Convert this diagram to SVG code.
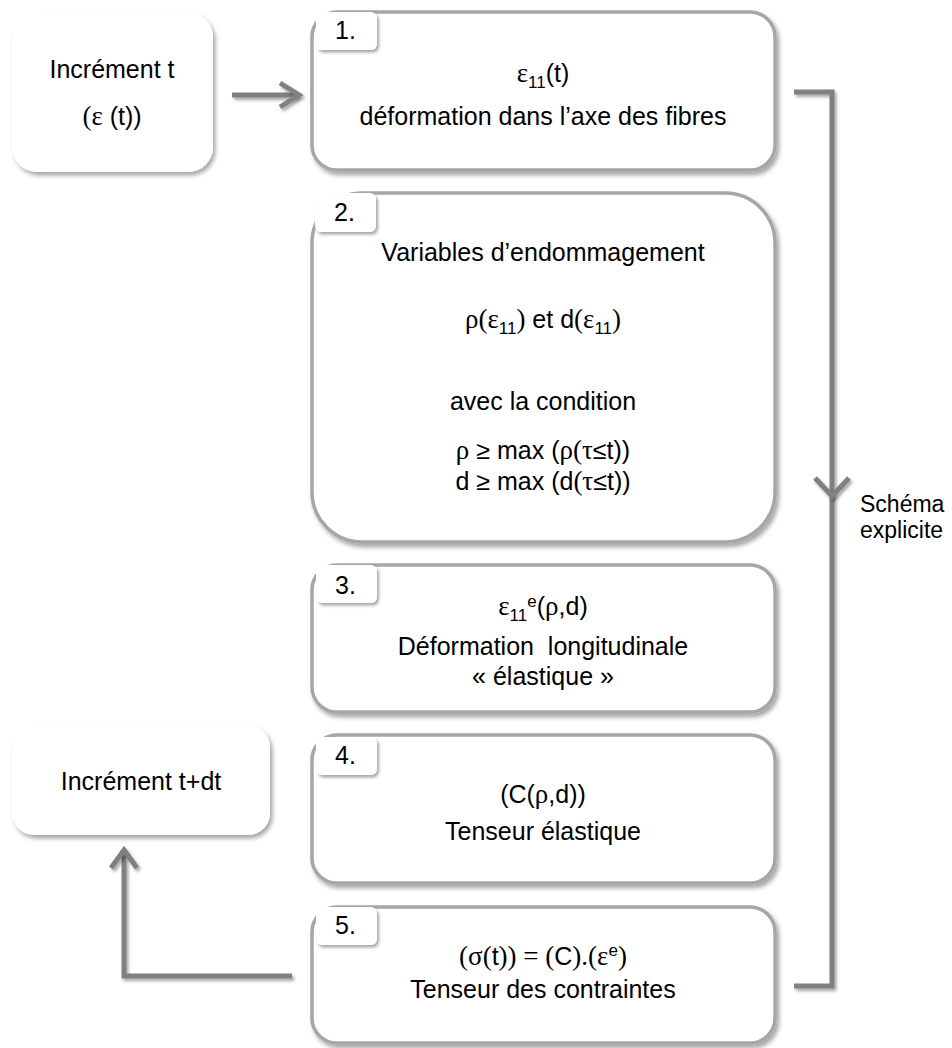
<svg xmlns="http://www.w3.org/2000/svg" width="952" height="1048" viewBox="0 0 952 1048">
<defs>
<filter id="sh" filterUnits="userSpaceOnUse" x="0" y="0" width="952" height="1048">
<feDropShadow dx="2.5" dy="3.5" stdDeviation="2.2" flood-color="#000" flood-opacity="0.35"/>
</filter>
<filter id="shl" filterUnits="userSpaceOnUse" x="0" y="0" width="952" height="1048">
<feDropShadow dx="2" dy="2.5" stdDeviation="1.8" flood-color="#000" flood-opacity="0.35"/>
</filter>
</defs>
<style>
text{font-family:"Liberation Sans",Arial,sans-serif;font-size:25px;fill:#000}
.c{text-anchor:middle}
.s{font-family:"Liberation Serif","Times New Roman",serif;font-size:27px}
.sub{font-size:17px}
.box{fill:#fff;stroke:#a6a6a6;stroke-width:3.5;filter:url(#sh)}
.inc{fill:#fff;stroke:none;filter:url(#sh)}
.tab{fill:#fff;stroke:none;filter:url(#shl)}
.con{fill:none;stroke:#808080;stroke-width:5;filter:url(#shl)}
.lbl{font-size:23px}
</style>
<rect width="952" height="1048" fill="#fff"/>

<g id="connectors">
<path class="con" d="M232 95 H298"/>
<path class="con" d="M280 83 L299 95 L280 107"/>
<path class="con" d="M794 92 H832 V986 H794"/>
<path class="con" d="M815 478 L832 496 L849 478"/>
<path class="con" d="M292 976 H124 V850"/>
<path class="con" d="M111 868 L124 850 L137 868"/>
</g>

<g id="inc-t">
<rect class="inc" x="12" y="12" width="201" height="160" rx="25"/>
<text class="c" x="112" y="78">Incrément t</text>
<text class="c" x="112" y="125"><tspan class="s">(ε</tspan> (t))</text>
</g>

<g id="inc-tdt">
<rect class="inc" x="12" y="725" width="258" height="110" rx="22"/>
<text class="c" x="141" y="790">Incrément t+dt</text>
</g>

<g id="step1">
<rect class="box" x="312" y="12" width="463" height="158" rx="25"/>
<rect class="tab" x="316" y="12" width="61" height="38" rx="6"/>
<text x="335" y="39">1.</text>
<text class="c" x="543" y="82"><tspan class="s">ε</tspan><tspan class="sub" dy="6">11</tspan><tspan dy="-6">(t)</tspan></text>
<text class="c" x="543" y="125">déformation dans l’axe des fibres</text>
</g>

<g id="step2">
<rect class="box" x="312" y="193" width="463" height="349" rx="50"/>
<rect class="tab" x="315" y="193" width="61" height="39" rx="6"/>
<text x="334" y="221">2.</text>
<text class="c" x="543" y="261">Variables d’endommagement</text>
<text class="c" x="543" y="328"><tspan class="s">ρ(ε</tspan><tspan class="sub" dy="6">11</tspan><tspan class="s" dy="-6">)</tspan> et d<tspan class="s">(ε</tspan><tspan class="sub" dy="6">11</tspan><tspan class="s" dy="-6">)</tspan></text>
<text class="c" x="543" y="410">avec la condition</text>
<text class="c" x="543" y="459"><tspan class="s">ρ</tspan> ≥ max (<tspan class="s">ρ(τ</tspan>≤t))</text>
<text class="c" x="543" y="490">d ≥ max (d<tspan class="s">(τ</tspan>≤t))</text>
</g>

<g id="step3">
<rect class="box" x="312" y="565" width="463" height="147" rx="25"/>
<rect class="tab" x="316" y="565" width="61" height="38" rx="6"/>
<text x="335" y="594">3.</text>
<text class="c" x="543" y="615"><tspan class="s">ε</tspan><tspan class="sub" dy="6">11</tspan><tspan class="sub" dy="-14">e</tspan><tspan dy="8">(</tspan><tspan class="s">ρ</tspan>,d)</text>
<text class="c" x="543" y="655" xml:space="preserve">Déformation  longitudinale</text>
<text class="c" x="543" y="685">« élastique »</text>
</g>

<g id="step4">
<rect class="box" x="312" y="735" width="463" height="148" rx="25"/>
<rect class="tab" x="316" y="737" width="61" height="38" rx="6"/>
<text x="335" y="764">4.</text>
<text class="c" x="543" y="803">(C(<tspan class="s">ρ</tspan>,d))</text>
<text class="c" x="543" y="840">Tenseur élastique</text>
</g>

<g id="step5">
<rect class="box" x="312" y="907" width="463" height="136" rx="25"/>
<rect class="tab" x="316" y="907" width="61" height="38" rx="6"/>
<text x="335" y="934">5.</text>
<text class="c" x="543" y="965"><tspan class="s">(σ(</tspan>t<tspan class="s">)) = (</tspan>C<tspan class="s">).(ε</tspan><tspan class="sub" dy="-9">e</tspan><tspan class="s" dy="9">)</tspan></text>
<text class="c" x="543" y="998">Tenseur des contraintes</text>
</g>

<g id="label-schema">
<text class="lbl" x="860" y="512">Schéma</text>
<text class="lbl" x="860" y="538">explicite</text>
</g>
</svg>
